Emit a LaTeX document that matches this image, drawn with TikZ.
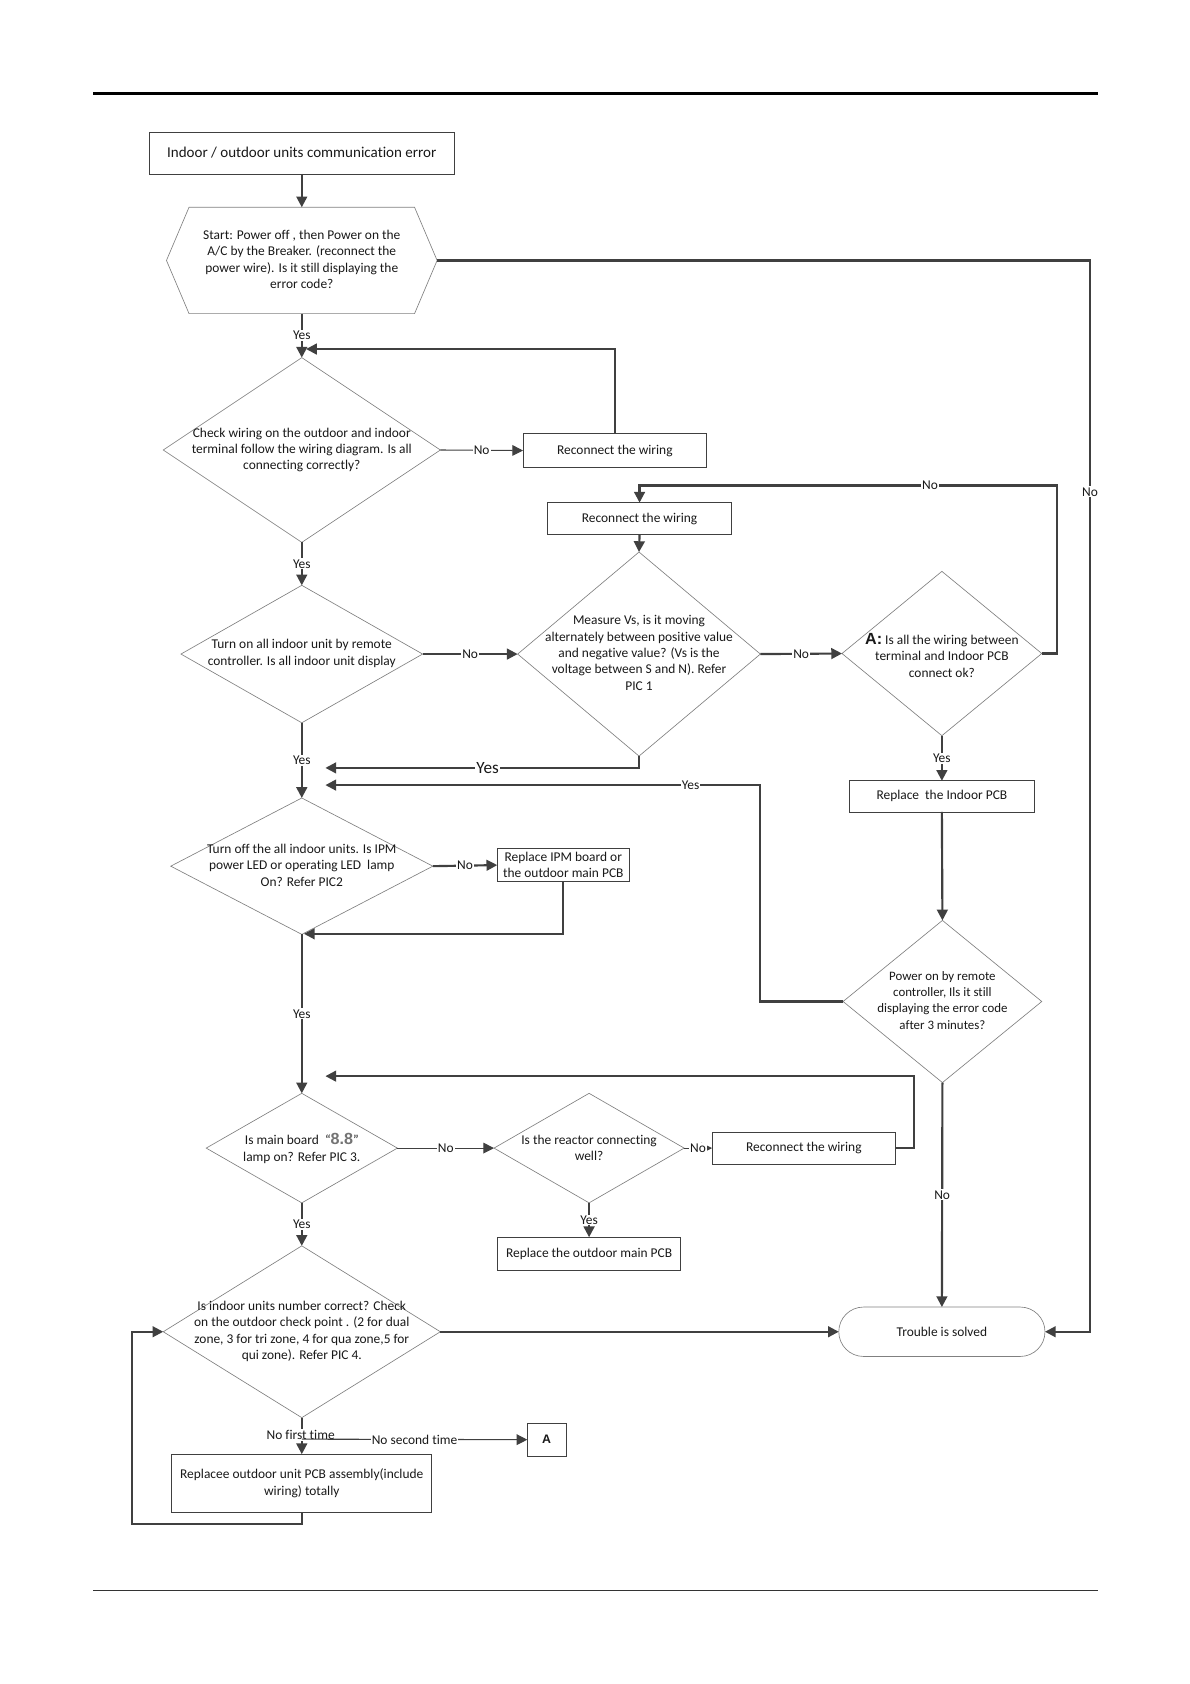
\documentclass[tikz,border=0pt]{standalone}
\usepackage{fontspec}
\setmainfont{Carlito}[Ligatures=NoCommon]
\newfontfamily\arialfont{Liberation Sans}
\usetikzlibrary{arrows.meta,shapes.geometric,shapes.misc}
\begin{document}
\begin{tikzpicture}[x=1pt,y=-1pt,
  every node/.style={font=\fontsize{12.5}{15.3}\selectfont, text=black!90},
  conn/.style={draw=black!75, line width=2pt, -{Triangle[length=10pt,width=10pt]}},
  thinconn/.style={draw=black!75, line width=1pt, -{Triangle[length=10pt,width=10pt]}},
  dia/.style={diamond, draw=black!50, line width=0.6pt, inner sep=0pt, outer sep=0pt},
  box/.style={rectangle, draw=black!75, line width=0.8pt, inner sep=0pt, outer sep=0pt, align=center},
  lbl/.style={fill=white, inner sep=1pt},
  txt/.style={align=center, inner sep=0pt},
]
\useasboundingbox (0,0) rectangle (1108,1568);
\fill[white] (0,0) rectangle (1108,1568);
% page rules
\draw[line width=2pt, black] (87,87) -- (1022,87);
\draw[line width=0.8pt, black!80] (87,1481) -- (1022,1481);

% nodes
\node[box, minimum width=284pt, minimum height=39pt, font=\fontsize{14}{16}\selectfont] (start) at (281,142.5) {Indoor / outdoor units communication error};

\node[minimum width=252pt, minimum height=99pt, inner sep=0pt, outer sep=0pt] (hex) at (281,242.5) {};
\draw[draw=black!50, line width=0.6pt] (hex.west) -- ([xshift=21pt]hex.north west) -- ([xshift=-21pt]hex.north east) -- (hex.east) -- ([xshift=-21pt]hex.south east) -- ([xshift=21pt]hex.south west) -- cycle;
\node[txt] (hext) at (281,241.5) {Start: Power off , then Power on the\\A/C by the Breaker. (reconnect the\\power wire). Is it still displaying the\\error code?};

\node[dia, minimum width=258pt, minimum height=172pt] (d1) at (281,419) {};
\node[txt] (d1t) at (281,419) {Check wiring on the outdoor and indoor\\terminal follow the wiring diagram. Is all\\connecting correctly?};

\node[box, minimum width=171pt, minimum height=31pt] (re1) at (572.5,419.5) {Reconnect the wiring};

\node[dia, minimum width=225pt, minimum height=128pt] (d2) at (281,609) {};
\node[txt] (d2t) at (281,608.5) {Turn on all indoor unit by remote\\controller. Is all indoor unit display};

\node[box, minimum width=171pt, minimum height=30pt] (re2) at (595.5,483) {Reconnect the wiring};

\node[dia, minimum width=226pt, minimum height=190pt] (d3) at (595,609) {};
\node[txt] (d3t) at (595,608) {Measure Vs, is it moving\\alternately between positive value\\and negative value? (Vs is the\\voltage between S and N). Refer\\PIC 1};

\node[dia, minimum width=186pt, minimum height=153pt] (d4) at (877,608.5) {};
\node[txt] (d4t) at (877,610) {{\arialfont\bfseries\fontsize{15}{15}\selectfont A:} Is all the wiring between\\terminal and Indoor PCB\\connect ok?};

\node[box, minimum width=172pt, minimum height=29pt] (rip) at (877,741.5) {Replace\ \ the Indoor PCB};

\node[dia, minimum width=244pt, minimum height=127pt] (d5) at (281,806.5) {};
\node[txt] (d5t) at (281,805.5) {Turn off the all indoor units. Is IPM\\power LED or operating LED\ \ lamp\\On? Refer PIC2};

\node[box, minimum width=123pt, minimum height=31pt, font=\fontsize{12.5}{15}\selectfont] (ipm) at (524.5,805.5) {Replace IPM board or\\the outdoor main PCB};

\node[dia, minimum width=185pt, minimum height=151pt] (d6) at (877.5,932.5) {};
\node[txt, font=\fontsize{12}{15}\selectfont] (d6t) at (877.5,931.5) {Power on by remote\\controller, Ils it still\\displaying the error code\\after 3 minutes?};

\node[dia, minimum width=178pt, minimum height=102pt] (d7) at (281,1069) {};
\node[txt] (d7t) at (281,1069.5) {Is main board\ \ ``{\arialfont\bfseries\color{black!55}\fontsize{15}{15}\selectfont 8.8}''\\lamp on? Refer PIC 3.};

\node[dia, minimum width=177pt, minimum height=102pt] (d8) at (548.5,1069) {};
\node[txt] (d8t) at (548.5,1069) {Is the reactor connecting\\well?};

\node[box, minimum width=171pt, minimum height=30pt] (re3) at (748.5,1069) {Reconnect the wiring};

\node[box, minimum width=171pt, minimum height=31pt] (rom) at (548.5,1167.5) {Replace the outdoor main PCB};

\node[dia, minimum width=258pt, minimum height=160pt] (d9) at (281,1240) {};
\node[txt] (d9t) at (281,1239.5) {Is indoor units number correct? Check\\on the outdoor check point . (2 for dual\\zone, 3 for tri zone, 4 for qua zone,5 for\\qui zone). Refer PIC 4.};

\node[rounded rectangle, draw=black!50, line width=0.6pt, minimum width=192pt, minimum height=46pt, inner sep=0pt, outer sep=0pt] (trouble) at (877,1240) {Trouble is solved};

\node[box, minimum width=242pt, minimum height=54pt] (boxD) at (281,1381) {Replacee outdoor unit PCB assembly(include\\wiring) totally};

\node[box, minimum width=36pt, minimum height=31pt, font=\arialfont\bfseries\fontsize{11.5}{14}\selectfont] (A) at (509,1340.5) {A};

% junction coordinates
\coordinate (j1) at (285,325);
\coordinate (j2) at (303,715);
\coordinate (j3) at (303,731);
\coordinate (j4) at (283,869.5);
\coordinate (j5) at (303,1002);
\coordinate (jA) at (281,1340);

% connectors
\draw[conn] (start.south) -- (hex.north);
\draw[conn] (hex.south) -- node[lbl]{Yes} (d1.north);
\draw[conn] (re1.north) |- (j1);
\draw[thinconn] (d1.east) -- node[lbl]{No} (re1.west);
\draw[conn] (d1.south) -- node[lbl]{Yes} (d2.north);
\draw[conn] (re2.south) -- (d3.north);
\draw[conn] (d2.east) -- node[lbl]{No} (d3.west);
\draw[conn] (d3.east) -- node[lbl]{No} (d4.west);
\draw[conn] (d4.east) -| (984,452) -| (re2.north);
\node[lbl] (lno4) at (866,452) {No};
\draw[conn] (d4.south) -- node[lbl]{Yes} (rip.north);
\draw[conn] (d2.south) -- node[lbl]{Yes} (d5.north);
\draw[conn] (d3.south) |- (j2);
\node[lbl, font=\fontsize{16}{16}\selectfont] (lyes3) at (454,715) {Yes};
\draw[conn] (d6.west) -| (708,731) -- (j3);
\node[lbl] (lyes6) at (643,731) {Yes};
\draw[conn] (d5.east) -- node[lbl]{No} (ipm.west);
\draw[conn] (ipm.south) |- (j4);
\draw[conn] (rip.south) -- (d6.north);
\draw[conn] (d6.south) -- node[lbl]{No} (trouble.north);
\draw[conn] (d5.south) -- node[lbl]{Yes} (d7.north);
\draw[thinconn] (d7.east) -- node[lbl]{No} (d8.west);
\draw[thinconn] (d8.east) -- node[lbl]{No} (re3.west);
\draw[conn] (re3.east) -| (851,1002) -- (j5);
\draw[conn] (d8.south) -- node[lbl]{Yes} (rom.north);
\draw[conn] (d7.south) -- node[lbl]{Yes} (d9.north);
\draw[conn] (d9.east) -- (trouble.west);
\draw[conn] (hex.east) -| (1015,1240) -- (trouble.east);
\node[lbl] (lnohex) at (1015,458) {No};
\draw[conn] (d9.south) -- (boxD.north);
\node[lbl] (lfirst) at (280,1336) {No first time};
\draw[thinconn] (jA) -- node[lbl]{No second time} (A.west);
\draw[conn] (boxD.south) -- (281,1419) -| (123,1240) -- (d9.west);
\end{tikzpicture}
\end{document}
